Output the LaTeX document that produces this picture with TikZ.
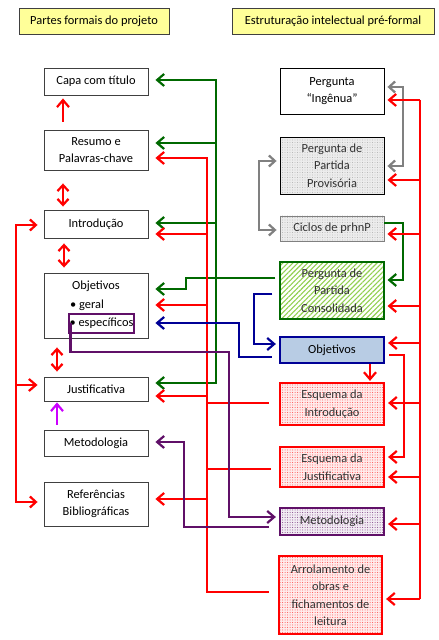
\documentclass[tikz,border=0pt]{standalone}
\usepackage{fontspec}
\setmainfont{Carlito}
\usetikzlibrary{arrows.meta,patterns.meta}

\definecolor{hdryellow}{RGB}{255,255,153}
\definecolor{dgreen}{RGB}{0,105,0}
\definecolor{lgreen}{RGB}{146,208,80}
\definecolor{dblue}{RGB}{0,0,150}
\definecolor{lblue}{RGB}{184,204,228}
\definecolor{dpurple}{RGB}{96,16,104}
\definecolor{magen}{RGB}{204,0,255}
\definecolor{mygray}{RGB}{128,128,128}

\begin{document}
\begin{tikzpicture}[x=1pt,y=1pt,
	txt/.style={font=\fontsize{12.4}{17.5}\selectfont},
	box/.style={txt,draw=black!75,line width=0.9pt,minimum width=104pt,align=center,inner sep=1pt,fill=white},
	hdrbox/.style={box,fill=hdryellow,minimum height=26pt},
	graybox/.style={box,text=black!80,preaction={fill=gray!15},pattern={Dots[distance=2.5pt,radius=0.45pt]},pattern color=gray!75},
	pinkbox/.style={box,text=black!80,draw=red,line width=2.2pt,preaction={fill=red!8},pattern={Dots[distance=2.5pt,radius=0.5pt]},pattern color=red!70},
	ln/.style={line width=2.2pt},
	tipL/.style={-{Straight Barb[length=7pt,width=12pt]},shorten >=7pt},
	tipR/.style={-{Straight Barb[length=7pt,width=12pt]},shorten >=3pt},
	tipUD/.style={{Straight Barb[length=6pt,width=11pt]}-{Straight Barb[length=6pt,width=11pt]}}]
	\fill[white] (0,0) rectangle (439,640);
	\useasboundingbox (0,0) rectangle (439,640);

	% headers
	\node[hdrbox,minimum width=150pt] (hl) at (94,619) {Partes formais do projeto};
	\node[hdrbox,minimum width=202pt] (hr) at (333,619) {Estruturação intelectual pré-formal};

	% formal parts
	\node[box,minimum height=27pt] (capa) at (96,558.5) {Capa com título};
	\node[box,minimum height=40pt] (res) at (96,490) {Resumo e\\Palavras-chave};
	\node[box,minimum height=28pt] (intro) at (96,416) {Introdução};
	\node[box,minimum height=65pt] (obj) at (96,334.5) {};
	\node[txt,anchor=west,inner sep=0pt] (objt) at (72,354) {Objetivos};
	\node[txt,anchor=west,inner sep=0pt] (ger) at (70,335) {• geral};
	\node[txt,draw=dpurple,line width=1.2pt,minimum width=65pt,minimum height=19pt,inner sep=0pt] (esp) at (101.5,316.5) {• específicos};
	\node[box,minimum height=24pt] (just) at (96,251) {Justificativa};
	\node[box,minimum height=26pt] (met) at (96,197) {Metodologia};
	\node[box,minimum height=44pt] (ref) at (96,136) {Referências\\Bibliográficas};

	% pre-formal structure
	\node[box,draw=black,minimum height=46pt] (ing) at (332,549) {Pergunta\\“Ingênua”};
	\node[graybox,draw=black,minimum height=57pt] (prov) at (332,474.5) {Pergunta de\\Partida\\Provisória};
	\node[graybox,draw=mygray,minimum height=25pt] (cic) at (332,411.5) {Ciclos de prhnP};
	\node[box,text=black!80,draw=dgreen,line width=2.2pt,minimum height=57pt,pattern={Lines[angle=45,distance=3.5pt,line width=1.1pt]},pattern color=lgreen,preaction={fill=white}] (cons) at (332,349.5) {Pergunta de\\Partida\\Consolidada};
	\node[box,draw=dblue,line width=2.2pt,fill=lblue,minimum height=26pt] (objR) at (332,290) {Objetivos};
	\node[pinkbox,minimum height=42pt] (esqI) at (332,236) {Esquema da\\Introdução};
	\node[pinkbox,minimum height=40pt] (esqJ) at (332,173) {Esquema da\\Justificativa};
	\node[pinkbox,draw=dpurple,preaction={fill=dpurple!8},pattern color=dpurple!80,minimum height=27pt] (metR) at (332,118.5) {Metodologia};
	\node[pinkbox,minimum width=103pt,minimum height=78pt] (arr) at (330.5,45) {Arrolamento de\\obras e\\fichamentos de\\leitura};

	% order of the formal parts
	\draw[ln,red,tipR,shorten <=8pt] ([xshift=-33pt]res.north) -- ([xshift=-33pt]capa.south);
	\draw[ln,red,tipUD,shorten <=13pt,shorten >=3pt] ([xshift=-33pt]res.south) -- ([xshift=-33pt]intro.north);
	\draw[ln,red,tipUD,shorten <=5pt,shorten >=5pt] ([xshift=-32pt]intro.south) -- ([xshift=-32pt]obj.north);
	\draw[ln,red,tipUD,shorten <=9pt,shorten >=5pt] ([xshift=-39pt]obj.south) -- ([xshift=-39pt]just.north);
	\draw[ln,magen,tipR,shorten <=5pt,shorten >=1pt] ([xshift=-39pt]met.north) -- ([xshift=-39pt]just.south);
	\draw[ln,red,tipUD,shorten <=6pt,shorten >=6pt] ([yshift=-1pt]intro.west) -| (16,138) -- ([yshift=2pt]ref.west);
	\draw[ln,red,tipL,shorten >=6pt] (16,255) -- ([yshift=4pt]just.west);

	% green
	\draw[ln,dgreen,tipL] ([xshift=-4pt,yshift=12.5pt]cons.west) -| (186,351) -- ([yshift=16.5pt]obj.east);
	\draw[ln,dgreen,tipL] (216,362) |- ([yshift=1.5pt]capa.east);
	\draw[ln,dgreen,tipL] (216,362) |- ([yshift=6pt]just.east);
	\draw[ln,dgreen,tipL] (216,497) -- ([yshift=7pt]res.east);
	\draw[ln,dgreen,tipL] (216,417) -- ([yshift=1pt]intro.east);
	\draw[ln,dgreen,tipR] ([yshift=5.5pt]cic.east) -| (403,360) -- ([yshift=10.5pt]cons.east);

	% red, from the schemes to the formal parts
	\draw[ln,red,tipL] ([xshift=-9pt,yshift=3pt]arr.west) -| (207,482) -- ([yshift=-8pt]res.east);
	\draw[ln,red] ([xshift=-10pt,yshift=1pt]esqI.west) -- (207,237);
	\draw[ln,red] ([xshift=-8pt,yshift=-2pt]esqJ.west) -- (207,171);
	\draw[ln,red,tipL] (207,406) -- ([yshift=-10pt]intro.east);
	\draw[ln,red,tipL] (207,335) -- ([yshift=0.5pt]obj.east);
	\draw[ln,red,tipL] (207,244) -- ([yshift=-7pt]just.east);
	\draw[ln,red,tipL] (207,141) -- ([yshift=5pt]ref.east);

	% blue
	\draw[ln,dblue,tipR] ([xshift=-7pt,yshift=-3.5pt]cons.west) -| (254,296) -- ([yshift=6pt]objR.west);
	\draw[ln,dblue,tipL] ([xshift=-7pt,yshift=-7pt]objR.west) -| (239,317) -- ([yshift=-17.5pt]obj.east);

	% purple
	\draw[ln,dpurple,tipR] ([xshift=2pt]esp.west) |- (229,288) |- ([yshift=4.5pt]metR.west);
	\draw[ln,dpurple,tipL] ([xshift=-10pt,yshift=-5.5pt]metR.west) -| (184,198) -- ([yshift=1pt]met.east);

	% gray
	\draw[ln,mygray,tipUD,shorten <=3pt,shorten >=3pt] ([yshift=4pt]ing.east) -| (403,474) -- ([yshift=-0.5pt]prov.east);
	\draw[ln,mygray,tipUD,shorten <=3pt,shorten >=3pt] ([yshift=4.5pt]prov.west) -| (259,410) -- ([yshift=-1.5pt]cic.west);

	% red, right side
	\draw[ln,red] (420,540) -- (420,41);
	\draw[ln,red,tipR] (420,540) -- ([yshift=-9pt]ing.east);
	\draw[ln,red,tipR] (420,460) -- ([yshift=-14.5pt]prov.east);
	\draw[ln,red,tipR] (420,406) -- ([yshift=-5.5pt]cic.east);
	\draw[ln,red,tipR] (420,334) -- ([yshift=-15.5pt]cons.east);
	\draw[ln,red,tipR] (420,297) -- ([yshift=7pt]objR.east);
	\draw[ln,red,tipR] (420,237) -- ([yshift=1pt]esqI.east);
	\draw[ln,red,tipR] (420,163) -- ([yshift=-10pt]esqJ.east);
	\draw[ln,red,tipR] (420,116) -- ([yshift=-2.5pt]metR.east);
	\draw[ln,red,tipR] (420,41) -- ([yshift=-4pt]arr.east);
	\draw[ln,red,tipR] ([xshift=4pt,yshift=-5pt]objR.east) -| (404,183) -- ([yshift=10pt]esqJ.east);
	\draw[ln,red,tipR,shorten >=1pt] ([xshift=38pt]objR.south) -- ([xshift=38pt]esqI.north);
\end{tikzpicture}
\end{document}
